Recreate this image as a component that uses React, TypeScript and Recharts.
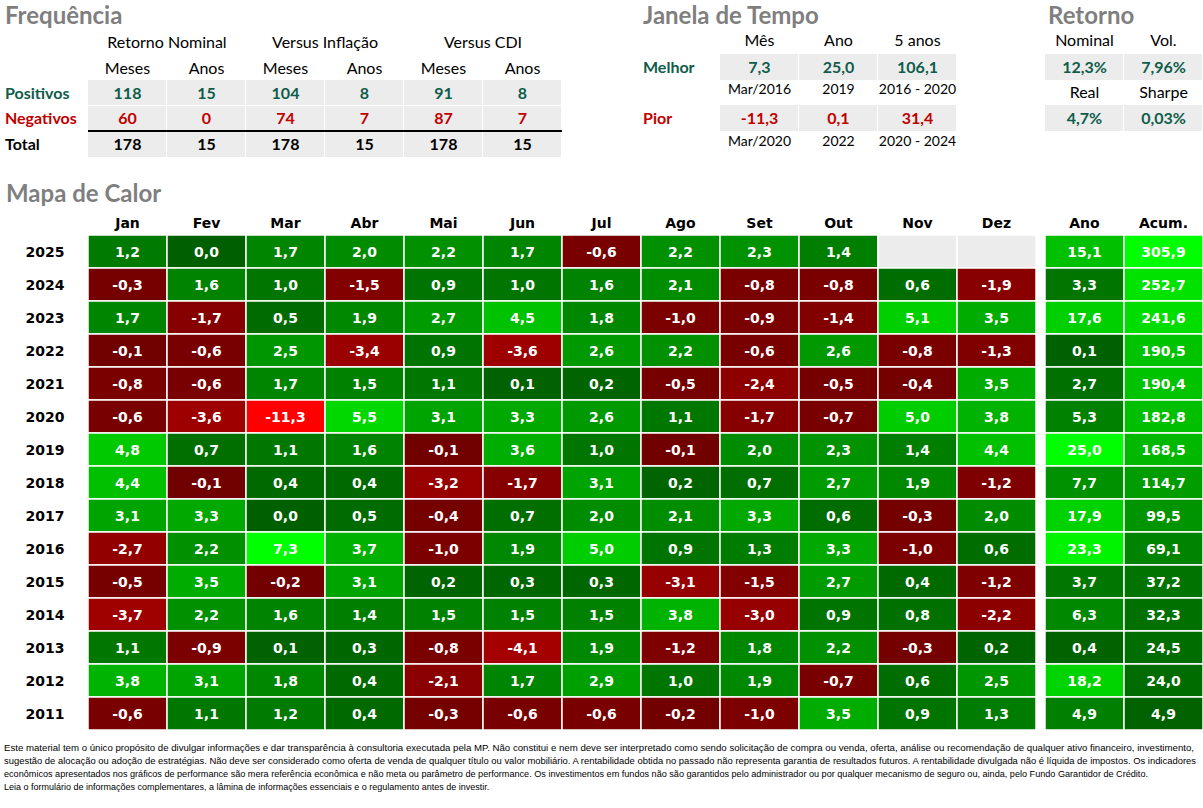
import React from 'react'
import { ScatterChart, Scatter, XAxis, YAxis } from 'recharts'

const months = ['Jan', 'Fev', 'Mar', 'Abr', 'Mai', 'Jun', 'Jul', 'Ago', 'Set', 'Out', 'Nov', 'Dez']
const years = ['2025', '2024', '2023', '2022', '2021', '2020', '2019', '2018', '2017', '2016', '2015', '2014', '2013', '2012', '2011']

const monthly: (number | null)[][] = [
  [1.2, 0.0, 1.7, 2.0, 2.2, 1.7, -0.6, 2.2, 2.3, 1.4, null, null],
  [-0.3, 1.6, 1.0, -1.5, 0.9, 1.0, 1.6, 2.1, -0.8, -0.8, 0.6, -1.9],
  [1.7, -1.7, 0.5, 1.9, 2.7, 4.5, 1.8, -1.0, -0.9, -1.4, 5.1, 3.5],
  [-0.1, -0.6, 2.5, -3.4, 0.9, -3.6, 2.6, 2.2, -0.6, 2.6, -0.8, -1.3],
  [-0.8, -0.6, 1.7, 1.5, 1.1, 0.1, 0.2, -0.5, -2.4, -0.5, -0.4, 3.5],
  [-0.6, -3.6, -11.3, 5.5, 3.1, 3.3, 2.6, 1.1, -1.7, -0.7, 5.0, 3.8],
  [4.8, 0.7, 1.1, 1.6, -0.1, 3.6, 1.0, -0.1, 2.0, 2.3, 1.4, 4.4],
  [4.4, -0.1, 0.4, 0.4, -3.2, -1.7, 3.1, 0.2, 0.7, 2.7, 1.9, -1.2],
  [3.1, 3.3, 0.0, 0.5, -0.4, 0.7, 2.0, 2.1, 3.3, 0.6, -0.3, 2.0],
  [-2.7, 2.2, 7.3, 3.7, -1.0, 1.9, 5.0, 0.9, 1.3, 3.3, -1.0, 0.6],
  [-0.5, 3.5, -0.2, 3.1, 0.2, 0.3, 0.3, -3.1, -1.5, 2.7, 0.4, -1.2],
  [-3.7, 2.2, 1.6, 1.4, 1.5, 1.5, 1.5, 3.8, -3.0, 0.9, 0.8, -2.2],
  [1.1, -0.9, 0.1, 0.3, -0.8, -4.1, 1.9, -1.2, 1.8, 2.2, -0.3, 0.2],
  [3.8, 3.1, 1.8, 0.4, -2.1, 1.7, 2.9, 1.0, 1.9, -0.7, 0.6, 2.5],
  [-0.6, 1.1, 1.2, 0.4, -0.3, -0.6, -0.6, -0.2, -1.0, 3.5, 0.9, 1.3],
]
const totalsCols = ['Ano', 'Acum.']
const yearReturn = [15.1, 3.3, 17.6, 0.1, 2.7, 5.3, 25.0, 7.7, 17.9, 23.3, 3.7, 6.3, 0.4, 18.2, 4.9]
const accumReturn = [305.9, 252.7, 241.6, 190.5, 190.4, 182.8, 168.5, 114.7, 99.5, 69.1, 37.2, 32.3, 24.5, 24.0, 4.9]

// Frequência
const freqGroups = ['Retorno Nominal', 'Versus Inflação', 'Versus CDI']
const freqSub = ['Meses', 'Anos']
const freqPositive = [118, 15, 104, 8, 91, 8]
const freqNegative = [60, 0, 74, 7, 87, 7]
const freqTotal = [178, 15, 178, 15, 178, 15]

// Janela de Tempo
const windowCols = ['Mês', 'Ano', '5 anos']
const bestValues = [7.3, 25.0, 106.1]
const bestWhen = ['Mar/2016', '2019', '2016 - 2020']
const worstValues = [-11.3, 0.1, 31.4]
const worstWhen = ['Mar/2020', '2022', '2020 - 2024']

// Retorno
const retTop = ['Nominal', 'Vol.']
const retTopValues = ['12,3%', '7,96%']
const retBottom = ['Real', 'Sharpe']
const retBottomValues = ['4,7%', '0,03%']

const disclaimer = [
  'Este material tem o único propósito de divulgar informações e dar transparência à consultoria executada pela MP. Não constitui e nem deve ser interpretado como sendo solicitação de compra ou venda, oferta, análise ou recomendação de qualquer ativo financeiro, investimento,',
  'sugestão de alocação ou adoção de estratégias. Não deve ser considerado como oferta de venda de qualquer título ou valor mobiliário. A rentabilidade obtida no passado não representa garantia de resultados futuros. A rentabilidade divulgada não é líquida de impostos. Os indicadores',
  'econômicos apresentados nos gráficos de performance são mera referência econômica e não meta ou parâmetro de performance. Os investimentos em fundos não são garantidos pelo administrador ou por qualquer mecanismo de seguro ou, ainda, pelo Fundo Garantidor de Crédito.',
  'Leia o formulário de informações complementares, a lâmina de informações essenciais e o regulamento antes de investir.',
]

const POS = '#0f5c4b'
const NEG = '#c00000'
const TITLE = '#7f7f7f'
const GRAY = '#ececec'
const TEXT_FONT = 'Lato, "Open Sans", sans-serif'
const CELL_FONT = '"DejaVu Sans", Verdana, sans-serif'

const COL0 = 88
const COLW = 79
const CELL_H = 33

const fmt = (v: number) => v.toFixed(1).replace('.', ',')

const allMonthly = monthly.flat().filter((v): v is number => v !== null)
const monthMax = Math.max(...allMonthly)
const monthMin = Math.min(...allMonthly)

function heatColor(v: number, max: number, min: number) {
  if (v >= 0) return `rgb(0, ${Math.round(96 + 159 * (v / max))}, 0)`
  return `rgb(${Math.round(112 + 143 * (v / min))}, 0, 0)`
}

const monthCells = years.flatMap((year, r) =>
  months.map((month, c) => ({ year, month, value: monthly[r][c] }))
)
const totalCells = years.flatMap((year, r) => [
  { year, month: totalsCols[0], value: yearReturn[r] },
  { year, month: totalsCols[1], value: accumReturn[r] },
])

const yearMax = Math.max(...yearReturn)
const accumMax = Math.max(...accumReturn)

function renderCell(props: any) {
  const { cx, cy, payload } = props
  if (cx == null || cy == null) return <g />
  const v = payload.value as number | null
  let fill = GRAY
  if (v !== null) {
    if (payload.month === totalsCols[0]) fill = heatColor(v, yearMax, monthMin)
    else if (payload.month === totalsCols[1]) fill = heatColor(v, accumMax, monthMin)
    else fill = heatColor(v, monthMax, monthMin)
  }
  return (
    <g>
      <rect x={cx - COLW / 2} y={cy - CELL_H / 2} width={COLW} height={CELL_H} fill={fill} stroke="#fff" strokeWidth={1.5} />
      {v !== null && (
        <text x={cx} y={cy + 5} textAnchor="middle" fill="#fff" fontFamily={CELL_FONT} fontWeight="bold" fontSize={14}>
          {fmt(v)}
        </text>
      )}
    </g>
  )
}

const HeadTick = (props: any) => {
  const { x, y, payload } = props
  return (
    <text x={x} y={y + 1} textAnchor="middle" fill="#000" fontFamily={CELL_FONT} fontWeight="bold" fontSize={14}>
      {payload.value}
    </text>
  )
}

const YearTick = (props: any) => {
  const { y, payload } = props
  return (
    <text x={45} y={y + 5} textAnchor="middle" fill="#000" fontFamily={CELL_FONT} fontWeight="bold" fontSize={14}>
      {payload.value}
    </text>
  )
}

function T({ x, y, children, style, anchor = 'middle' }: any) {
  const tx = anchor === 'middle' ? '-50%' : anchor === 'end' ? '-100%' : '0'
  return (
    <div
      style={{
        position: 'absolute',
        left: x,
        top: y,
        transform: `translate(${tx}, -50%)`,
        whiteSpace: 'nowrap',
        lineHeight: 1.2,
        fontFamily: TEXT_FONT,
        fontSize: 16,
        color: '#000',
        ...style,
      }}
    >
      {children}
    </div>
  )
}

function Box({ left, top, width = COLW - 1, height = 25 }: any) {
  return <div style={{ position: 'absolute', left, top, width, height, background: GRAY }} />
}

const title = { fontSize: 24, fontWeight: 700, color: TITLE }
const bold = { fontWeight: 700 }

export default function App() {
  const center = (i: number) => COL0 + COLW * (i + 0.5)
  return (
    <div style={{ position: 'relative', width: 1203, height: 808, background: '#fff', overflow: 'hidden' }}>
      <style>{'body{margin:0}'}</style>

      {/* Frequência */}
      <T x={5} y={15} anchor="start" style={title}>Frequência</T>
      {freqGroups.map((g, i) => (
        <T key={g} x={COL0 + COLW * (2 * i + 1)} y={42}>{g}</T>
      ))}
      {[0, 1, 2, 3, 4, 5].map((i) => (
        <T key={'s' + i} x={center(i)} y={68}>{freqSub[i % 2]}</T>
      ))}
      {freqPositive.map((v, i) => (
        <React.Fragment key={'p' + i}>
          <Box left={COL0 + COLW * i} top={80} />
          <Box left={COL0 + COLW * i} top={106} />
          <Box left={COL0 + COLW * i} top={132} />
        </React.Fragment>
      ))}
      <div style={{ position: 'absolute', left: COL0, top: 130, width: COLW * 6, height: 1.5, background: '#000' }} />
      <T x={5} y={93} anchor="start" style={{ ...bold, color: POS }}>Positivos</T>
      <T x={5} y={118} anchor="start" style={{ ...bold, color: NEG }}>Negativos</T>
      <T x={5} y={144} anchor="start" style={bold}>Total</T>
      {freqPositive.map((v, i) => (
        <T key={'pv' + i} x={center(i)} y={93} style={{ ...bold, color: POS }}>{v}</T>
      ))}
      {freqNegative.map((v, i) => (
        <T key={'nv' + i} x={center(i)} y={118} style={{ ...bold, color: NEG }}>{v}</T>
      ))}
      {freqTotal.map((v, i) => (
        <T key={'tv' + i} x={center(i)} y={144} style={bold}>{v}</T>
      ))}

      {/* Janela de Tempo */}
      <T x={643} y={15} anchor="start" style={title}>Janela de Tempo</T>
      <T x={643} y={67} anchor="start" style={{ ...bold, color: POS }}>Melhor</T>
      <T x={643} y={118} anchor="start" style={{ ...bold, color: NEG }}>Pior</T>
      {windowCols.map((c, i) => (
        <React.Fragment key={c}>
          <T x={center(8 + i)} y={40}>{c}</T>
          <Box left={COL0 + COLW * (8 + i)} top={54} height={26} />
          <T x={center(8 + i)} y={67} style={{ ...bold, color: POS }}>{fmt(bestValues[i])}</T>
          <T x={center(8 + i)} y={89} style={{ fontSize: 14 }}>{bestWhen[i]}</T>
          <Box left={COL0 + COLW * (8 + i)} top={105} height={26} />
          <T x={center(8 + i)} y={118} style={{ ...bold, color: NEG }}>{fmt(worstValues[i])}</T>
          <T x={center(8 + i)} y={141} style={{ fontSize: 14 }}>{worstWhen[i]}</T>
        </React.Fragment>
      ))}

      {/* Retorno */}
      <T x={1048} y={15} anchor="start" style={title}>Retorno</T>
      {retTop.map((c, i) => (
        <React.Fragment key={c}>
          <T x={1045 + COLW * (i + 0.5)} y={40}>{c}</T>
          <Box left={1045 + COLW * i} top={54} height={26} />
          <T x={1045 + COLW * (i + 0.5)} y={67} style={{ ...bold, color: POS }}>{retTopValues[i]}</T>
          <T x={1045 + COLW * (i + 0.5)} y={92}>{retBottom[i]}</T>
          <Box left={1045 + COLW * i} top={105} height={26} />
          <T x={1045 + COLW * (i + 0.5)} y={118} style={{ ...bold, color: POS }}>{retBottomValues[i]}</T>
        </React.Fragment>
      ))}

      {/* Mapa de Calor */}
      <T x={6} y={193} anchor="start" style={title}>Mapa de Calor</T>
      <div style={{ position: 'absolute', left: 0, top: 205 }}>
        <ScatterChart width={COL0 + COLW * 12} height={30 + CELL_H * 15} margin={{ top: 0, right: 0, bottom: 0, left: 0 }}>
          <XAxis type="category" dataKey="month" orientation="top" allowDuplicatedCategory={false}
            axisLine={false} tickLine={false} height={30} interval={0} tick={<HeadTick />} />
          <YAxis type="category" dataKey="year" allowDuplicatedCategory={false} reversed
            axisLine={false} tickLine={false} width={COL0} interval={0} tick={<YearTick />} />
          <Scatter data={monthCells} shape={renderCell} isAnimationActive={false} />
        </ScatterChart>
      </div>
      <div style={{ position: 'absolute', left: 1045, top: 205 }}>
        <ScatterChart width={COLW * 2} height={30 + CELL_H * 15} margin={{ top: 0, right: 0, bottom: 0, left: 0 }}>
          <XAxis type="category" dataKey="month" orientation="top" allowDuplicatedCategory={false}
            axisLine={false} tickLine={false} height={30} interval={0} tick={<HeadTick />} />
          <YAxis type="category" dataKey="year" allowDuplicatedCategory={false} reversed hide />
          <Scatter data={totalCells} shape={renderCell} isAnimationActive={false} />
        </ScatterChart>
      </div>

      {/* disclaimer */}
      <svg style={{ position: 'absolute', left: 0, top: 740 }} width={1203} height={60}>
        {disclaimer.map((line, i) => (
          <text key={i} x={4} y={11 + i * 13} fontFamily='"Liberation Sans", Arial, sans-serif' fontSize={9} fill="#000"
            {...(i < 3 ? { textLength: [1190, 1192, 1144][i], lengthAdjust: 'spacingAndGlyphs' } : {})}>
            {line}
          </text>
        ))}
      </svg>
    </div>
  )
}
